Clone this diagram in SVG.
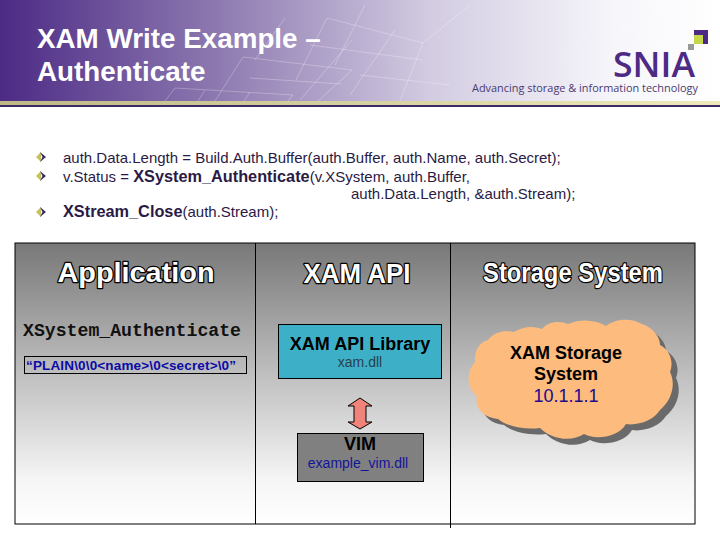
<svg xmlns="http://www.w3.org/2000/svg" width="720" height="540" viewBox="0 0 720 540">
<style>
text{font-family:"Liberation Sans",Arial,sans-serif}
.b{font-size:15px;fill:#2a1a45}
.bb{font-size:16.300px;font-weight:bold}
.hd{font-weight:bold;font-size:27px;fill:#fff;stroke:#000;stroke-width:2.400px;paint-order:stroke;stroke-linejoin:round;text-anchor:middle}
.g{fill:none;stroke:#fff;stroke-opacity:.26;stroke-width:1}
.lbl{font-weight:bold;font-size:18px;fill:#000;text-anchor:middle}
.sub{font-size:14px;text-anchor:middle}
.box{stroke:#000;stroke-width:1}
</style>
<defs>
<linearGradient id="hdr" x1="0" x2="1" y1="0" y2="0"><stop offset="0" stop-color="#4c2a85"/><stop offset=".3" stop-color="#8d79b0"/><stop offset=".6" stop-color="#d3cce2"/><stop offset=".85" stop-color="#f6f5fa"/><stop offset="1" stop-color="#fff"/></linearGradient>
<linearGradient id="pan" x1="0" x2="0" y1="0" y2="1"><stop offset="0" stop-color="#787878"/><stop offset=".5" stop-color="#c4c4c4"/><stop offset=".85" stop-color="#f6f6f6"/><stop offset="1" stop-color="#fff"/></linearGradient>
<linearGradient id="rule" x1="0" x2="1" y1="0" y2="0"><stop offset="0" stop-color="#bdb884"/><stop offset="1" stop-color="#efeabc"/></linearGradient>
<g id="bul"><path d="M-5 0 0-5V5Z" fill="#c3c25e"/><path d="M-1-5 5 0-1 5 1.500 0Z" fill="#3c2a66"/></g>
<path id="cloud" d="M488 340C494 332 504 330 514 332 524 326 534 326 542 329 548 322 558 320 568 324 582 318 596 320 606 326 616 318 632 318 642 324 654 328 660 338 660 345 670 350 674 362 670 372 676 384 672 400 660 410 654 420 638 426 626 424 618 438 594 440 584 434 572 442 552 440 540 428 524 430 506 426 498 419 484 418 474 408 477 396 466 388 466 372 475 362 474 350 480 342 488 340Z"/>
</defs>
<rect width="720" height="540" fill="#fff"/>
<g id="header">
<rect width="720" height="101" fill="url(#hdr)"/>
<path class="g" d="M327 18 423 43 400 101M327 18 296 80M365 5 335 65M243 57 352 70 318 101M243 57 215 101M285 18 255 60M175 88 293 95 288 101M175 88 165 101M205 90 198 101M250 92 244 101M352 40 300 100M423 43 470 5M395 30 350 95M250 78 342 84M310 45 423 60M360 75 450 85M700 2 665 50 615 20M560 60 600 20M640 30 665 2"/>
<rect y="101" width="720" height="4" fill="url(#rule)"/>
<rect y="105" width="720" height="2" fill="#3c2a66"/>
<text x="37" y="48" font-size="27.800" font-weight="bold" fill="#fff">XAM Write Example –</text>
<text x="37" y="81" font-size="27.800" font-weight="bold" fill="#fff">Authenticate</text>
</g>
<g id="logo">
<path d="M694 30H708V44H703V35H694Z" fill="#4c2a85"/>
<rect x="694" y="35" width="9" height="9" fill="#c5d64a"/>
<rect x="688" y="44" width="6" height="6" fill="#999"/>
<text x="613" y="77" font-size="34" font-weight="600" fill="#4c2a85" textLength="82" lengthAdjust="spacingAndGlyphs" style="font-family:'Open Sans',sans-serif">SNIA</text>
<text x="472" y="92" font-size="11" fill="#4a3a70" textLength="226" lengthAdjust="spacingAndGlyphs" style="font-family:'Open Sans',sans-serif">Advancing storage &amp; information technology</text>
</g>
<g id="bullets">
<use href="#bul" x="41" y="157"/><use href="#bul" x="41" y="176"/><use href="#bul" x="41" y="212"/>
</g>
<g id="body">
<text class="b" x="63" y="163">auth.Data.Length = Build.Auth.Buffer(auth.Buffer, auth.Name, auth.Secret);</text>
<text class="b" x="63" y="182">v.Status = <tspan class="bb">XSystem_Authenticate</tspan>(v.XSystem, auth.Buffer,</text>
<text class="b" x="351" y="199">auth.Data.Length, &amp;auth.Stream);</text>
<text class="b" x="63" y="217"><tspan class="bb">XStream_Close</tspan>(auth.Stream);</text>
</g>
<g id="panel">
<rect x="15" y="243" width="680" height="281" fill="url(#pan)" stroke="#000"/>
<path d="M255.500 243V524M450.500 243V528" stroke="#000" fill="none"/>
<text class="hd" x="136" y="282" textLength="157" lengthAdjust="spacingAndGlyphs">Application</text>
<text class="hd" x="357" y="283" textLength="107" lengthAdjust="spacingAndGlyphs">XAM API</text>
<text class="hd" x="573" y="282" textLength="180" lengthAdjust="spacingAndGlyphs">Storage System</text>
</g>
<g id="application">
<text x="23" y="336" font-size="18" font-weight="bold" fill="#111" textLength="218" lengthAdjust="spacingAndGlyphs" style="font-family:'Liberation Mono',monospace">XSystem_Authenticate</text>
<rect class="box" x="24.500" y="356.500" width="222" height="17" fill="none"/>
<text x="26" y="370" font-size="13.500" font-weight="bold" fill="#0b0ba8" textLength="210">“PLAIN\0\0&lt;name&gt;\0&lt;secret&gt;\0”</text>
</g>
<g id="xam-api-library">
<rect class="box" x="278.500" y="324.500" width="163" height="54" fill="#3db0c8"/>
<text class="lbl" x="360" y="350">XAM API Library</text>
<text class="sub" x="360" y="367" fill="#28404e">xam.dll</text>
</g>
<g id="connectors">
<path d="M360 398 372 406H366V422H372L360 429 348 422H354V406H348Z" fill="#f0837a" stroke="#000" stroke-width="1"/>
</g>
<g id="vim">
<rect class="box" x="297.500" y="433.500" width="126" height="48" fill="#808080"/>
<text x="360" y="450" font-size="18" font-weight="bold" text-anchor="middle">VIM</text>
<text class="sub" x="358" y="468" fill="#14149a">example_vim.dll</text>
</g>
<g id="xam-storage-system">
<use href="#cloud" x="6" y="6" fill="#6a6a6a"/>
<use href="#cloud" fill="#fdbb7e"/>
<text class="lbl" x="566" y="359">XAM Storage</text>
<text class="lbl" x="566" y="380">System</text>
<text x="566" y="402" font-size="18" text-anchor="middle" fill="#1a0a8c">10.1.1.1</text>
</g>
</svg>
